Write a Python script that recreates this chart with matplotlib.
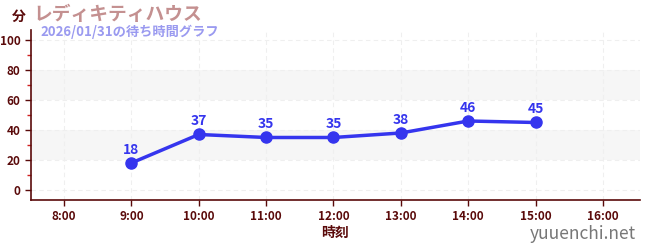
import matplotlib
matplotlib.use("Agg")
import matplotlib.pyplot as plt
from matplotlib.ticker import MultipleLocator

plt.rcParams['font.family'] = ['Noto Sans CJK JP', 'DejaVu Sans']

hours = [9, 10, 11, 12, 13, 14, 15]
waits = [18, 37, 35, 35, 38, 46, 45]
tick_hours = [8, 9, 10, 11, 12, 13, 14, 15, 16]
tick_labels = [f"{h}:00" for h in tick_hours]
title = "レディキティハウス"
subtitle = "2026/01/31の待ち時間グラフ"

dark = '#5a0a0a'
fig = plt.figure(figsize=(6.5, 2.5), dpi=100)
ax = fig.add_axes([31/650, 50/250, 609/650, 170/250])

ax.set_xlim(7.51, 16.55)
ax.set_ylim(-6.7, 106.7)
for lo, hi in [(20, 40), (60, 80)]:
    ax.axhspan(lo, hi, color='#f6f6f6', zorder=0, lw=0)
ax.set_yticks([0, 20, 40, 60, 80, 100])
ax.yaxis.set_minor_locator(MultipleLocator(10))
ax.set_xticks(tick_hours)
ax.set_xticklabels(tick_labels)
ax.grid(True, which='major', color='#efefef', linestyle=(0, (4, 3)), lw=0.8, zorder=0)
for s in ['top', 'right']:
    ax.spines[s].set_visible(False)
for s in ['left', 'bottom']:
    ax.spines[s].set_color(dark)
    ax.spines[s].set_linewidth(1.2)
ax.tick_params(axis='both', which='major', colors=dark, labelsize=8.5, length=4, width=1)
ax.tick_params(axis='y', which='minor', colors='#d02020', length=3, width=1)
ax.tick_params(axis='x', pad=3)
for lbl in ax.get_xticklabels() + ax.get_yticklabels():
    lbl.set_fontweight('bold')

ax.plot(hours, waits, color='#3535ee', lw=2.5, marker='o', ms=8, zorder=3, clip_on=False)
for h, w in zip(hours, waits):
    ax.annotate(str(w), (h, w), xytext=(0, 4.5), textcoords='offset points', ha='center', va='bottom',
                color='#3535ee', fontsize=10, fontweight='bold')

ax.set_xlabel('時刻', color=dark, fontsize=10, fontweight='bold', labelpad=2)

fig.text(12/650, 1 - 17/250, '分', color=dark, fontsize=10, fontweight='bold', va='center', ha='left')
fig.text(33/650, 1 - 14/250, title, color='#c49090', fontsize=13.5, fontweight='bold', va='center', ha='left')
fig.text(40/650, 1 - 32/250, subtitle, color='#9a9af0', fontsize=9.5, fontweight='bold', va='center', ha='left')
fig.text(636/650, 1 - 234/250, 'yuuenchi.net', color='#777777', fontsize=12.5, va='center', ha='right')

fig.savefig('out.png', dpi=100)
